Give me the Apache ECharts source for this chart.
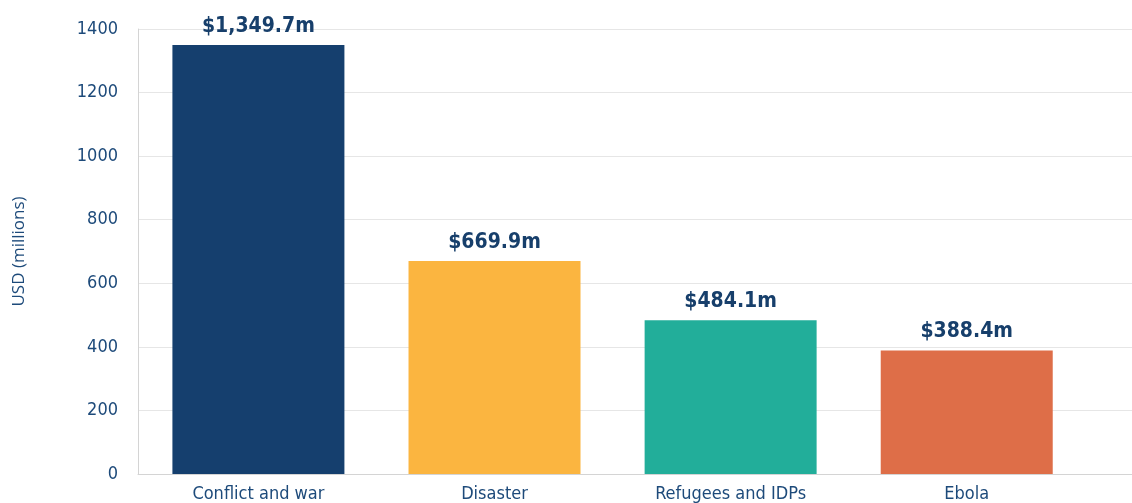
<!DOCTYPE html>
<html>
<head>
<meta charset="utf-8">
<script src="https://cdn.jsdelivr.net/npm/echarts@6/dist/echarts.min.js"></script>
<style>
  html, body { margin: 0; padding: 0; background: #fff; }
  #chart { width: 1132px; height: 503px; }
</style>
</head>
<body>
<div id="chart"></div>
<script>
const categories = ['Conflict and war', 'Disaster', 'Refugees and IDPs', 'Ebola']
const values = [1349.7, 669.9, 484.1, 388.4]
const barColors = ['#153f6e', '#fbb540', '#22ae9a', '#de6e48']
const yTicks = { min: 0, max: 1400, interval: 200 }

const fontFam = 'Tahoma, "DejaVu Sans Condensed", "DejaVu Sans", sans-serif'
const textColor = '#1d4a7a'

// bars sit on a value axis so the slightly narrow right margin of the original fits
const barData = values.map((v, i) => ({
  value: [i, v],
  itemStyle: { color: barColors[i] }
}))

const chart = echarts.init(document.getElementById('chart'))

chart.setOption({
  animation: false,
  grid: { left: 138, right: 0, top: 29, bottom: 24 },
  xAxis: {
    type: 'value',
    min: -0.51,
    max: 3.7,
    axisLine: { show: true, onZero: false, lineStyle: { color: '#d4d4d4', width: 1 } },
    axisTick: { show: false },
    splitLine: { show: false },
    axisLabel: {
      customValues: [0, 1, 2, 3],
      formatter: v => categories[v],
      color: textColor,
      fontFamily: fontFam,
      fontSize: 18,
      margin: 11
    }
  },
  yAxis: {
    type: 'value',
    min: yTicks.min,
    max: yTicks.max,
    interval: yTicks.interval,
    name: 'USD (millions)',
    nameLocation: 'middle',
    nameGap: 110,
    nameTextStyle: { color: textColor, fontFamily: '"Open Sans", sans-serif', fontSize: 17 },
    axisLine: { show: true, onZero: false, lineStyle: { color: '#d4d4d4', width: 1 } },
    axisTick: { show: false },
    splitLine: { lineStyle: { color: '#e6e6e6', width: 1 } },
    axisLabel: {
      color: textColor,
      fontFamily: fontFam,
      fontSize: 18,
      margin: 20,
      formatter: v => String(v)
    }
  },
  series: [
    {
      type: 'bar',
      barWidth: 172,
      data: barData,
      label: {
        show: true,
        position: 'top',
        distance: 8,
        color: '#173f6b',
        fontFamily: fontFam,
        fontWeight: 'bold',
        fontSize: 21,
        formatter: p => '$' + p.value[1].toLocaleString('en-US', { minimumFractionDigits: 1, maximumFractionDigits: 1 }) + 'm'
      }
    }
  ]
})
</script>
</body>
</html>
